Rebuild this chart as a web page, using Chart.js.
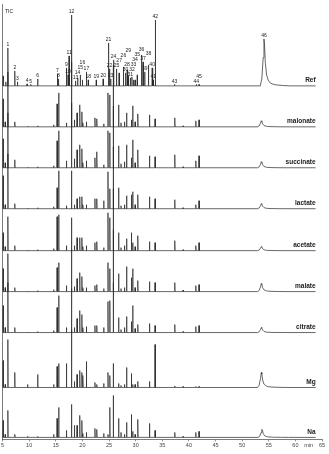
<!DOCTYPE html>
<html>
<head>
<meta charset="utf-8">
<script src="https://cdn.jsdelivr.net/npm/chart.js@4.4.0/dist/chart.umd.min.js"></script>
<style>
  html, body { margin: 0; padding: 0; background: #fff; }
</style>
</head>
<body>
<canvas id="myChart" width="329" height="454"></canvas>
<script>
// trace names, top to bottom
const sampleNames = ['Ref', 'malonate', 'succinate', 'lactate', 'acetate', 'malate', 'citrate', 'Mg', 'Na'];

// Ref chromatogram: retention times (min), peak heights, peak numbers
const refTimes = [5.1, 5.6, 6.0, 7.3, 7.8, 9.6, 10.3, 11.6, 15.3, 15.5, 17.0, 17.3, 17.5, 17.95, 18.7, 19.1, 19.6, 20.0, 20.75, 21.1,
  22.6, 23.9, 24.9, 25.1, 25.3, 25.85, 26.4, 26.9, 27.7, 28.1, 28.4, 28.6, 29.0, 29.3, 29.6, 29.9, 30.3, 31.1, 31.4, 31.7,
  32.4, 33.1, 33.3, 33.7, 37.3, 41.4, 41.9];
const refHeights = [10, 4, 38, 15, 4, 2, 1.5, 7, 12, 7, 18, 11, 30, 71, 5, 8, 11, 6, 14, 6,
  6, 7, 43, 17, 7, 26, 17, 13, 19, 13, 16, 10, 8, 9, 6, 6, 11, 31, 24, 14,
  21, 18, 6, 66, 1.5, 1.5, 1.5];
const refLabels = ['', '', '1', '2', '3', '4', '5', '6', '7', '8', '9', '10', '11', '12', '13', '14', '15', '16', '17', '18',
  '19', '20', '21', '22', '23', '24', '25', '27', '26', '30', '28', '29', '31', '32', '33', '34', '35', '36', '37', '39',
  '38', '40', '41', '42', '43', '44', '45'];

// the other 8 traces share these retention times
const sampleTimes = [5.1, 5.5, 6.0, 7.3, 9.7, 11.6, 14.6, 15.25, 15.55, 17.0, 17.95, 18.5, 19.0, 19.5, 19.9, 20.1, 20.75, 22.35, 22.7,
  24.0, 24.8, 25.15, 25.8, 26.8, 27.25, 27.9, 28.3, 29.2, 29.45, 29.9, 30.4, 32.6, 33.65, 37.35, 38.9, 41.3, 41.9];
const malonate  = [28, 5, 55, 5, 0.5, 1, 2, 23, 34, 4, 65, 7, 14, 22, 15, 4, 5, 9, 8, 3, 34, 32, 62, 22, 4, 5, 14, 7, 21, 5, 13, 12, 8, 9, 1, 6, 7];
const succinate = [29, 5, 55, 8, 0.5, 1, 2, 27, 37, 7, 65, 9, 18, 23, 19, 5, 7, 10, 16, 3, 37, 35, 62, 22, 4, 6, 23, 10, 28, 5, 18, 12, 11, 13, 1, 7, 12];
const lactate   = [33, 4, 55, 5, 0.5, 1, 2, 21, 38, 3, 38, 4, 10, 12, 12, 4, 4, 10, 10, 8, 37, 20, 62, 21, 3, 4, 13, 14, 17, 4, 14, 12, 10, 9, 1, 4, 8];
const acetate   = [18, 4, 34, 5, 0.5, 1, 2, 34, 36, 5, 33, 5, 13, 13, 13, 4, 5, 8, 9, 3, 38, 33, 62, 18, 3, 5, 12, 18, 8, 4, 15, 9, 8, 10, 1, 5, 8];
const malate    = [23, 4, 38, 4, 0.5, 1, 2, 24, 29, 6, 42, 5, 13, 19, 15, 4, 4, 6, 7, 3, 29, 23, 62, 18, 3, 4, 25, 14, 23, 4, 11, 10, 9, 9, 1.5, 6, 7];
const citrate   = [27, 5, 50, 5, 0.5, 1, 2, 25, 37, 5, 44, 5, 14, 22, 18, 5, 6, 7, 7, 5, 31, 32, 50, 15, 3, 5, 16, 11, 27, 4, 8, 9, 7, 8, 1, 6, 7];
const mg        = [27, 3, 48, 15, 3, 13, 3, 21, 24, 24, 58, 6, 13, 17, 15, 12, 26, 5, 3, 4, 15, 12, 24, 4, 2, 3, 20, 14, 3, 3, 6, 6, 43, 1.5, 1, 1, 1];
const na        = [17, 3, 27, 3, 1, 1, 3, 19, 30, 7, 33, 12, 12, 22, 17, 4, 5, 9, 8, 4, 3, 30, 42, 19, 5, 3, 15, 23, 6, 3, 18, 14, 7, 5, 1, 5, 6];
const sampleHeights = [malonate, succinate, lactate, acetate, malate, citrate, mg, na];

// broad peak 46 (time, height) per trace, and its tailing shape
const broadTimes = [54.1, 53.6, 53.6, 53.6, 53.6, 53.6, 53.6, 53.6, 53.7];
const broadHeights = [47, 6, 6, 5, 4, 8, 5, 15, 8];
const peakShape = [[-0.7, 0], [-0.4, 0.15], [-0.15, 0.6], [0, 1], [0.1, 0.9], [0.25, 0.5], [0.5, 0.23], [0.8, 0.12],
  [1.2, 0.06], [2, 0.025], [3.5, 0.008], [5, 0]];

const xTicks = { min: 5, max: 65, step: 5 };
const traceEnd = 63.8;

// layout: baseline of each trace in y units (1 unit ~ 1px)
const panelBase = [354, 313, 272, 231, 189, 148, 107, 52, 2];

function buildTrace(times, heights, bTime, bHeight, base) {
    const pts = [{x: xTicks.min, y: base}, {x: traceEnd, y: base}];
    for (let i = 0; i < times.length; i++) {
        const t = times[i];
        pts.push({x: t - 0.05, y: base}, {x: t, y: base + heights[i]}, {x: t + 0.05, y: base});
    }
    peakShape.forEach(p => pts.push({x: bTime + p[0], y: base + p[1] * bHeight}));
    pts.sort((a, b) => a.x - b.x);
    return pts;
}

const datasets = [];
datasets.push({data: buildTrace(refTimes, refHeights, broadTimes[0], broadHeights[0], panelBase[0])});
sampleHeights.forEach((h, i) => {
    datasets.push({data: buildTrace(sampleTimes, h, broadTimes[i + 1], broadHeights[i + 1], panelBase[i + 1])});
});
datasets.forEach(d => {
    d.borderColor = '#262626';
    d.borderWidth = 0.7;
    d.pointRadius = 0;
    d.tension = 0;
    d.fill = false;
});

const textPlugin = {
    id: 'textPlugin',
    afterDraw(chart) {
        const ctx = chart.ctx;
        const x = chart.scales.x, y = chart.scales.y;
        ctx.save();
        ctx.fillStyle = '#1a1a1a';

        // trace names
        ctx.font = 'bold 6.5px "Liberation Sans", Arial, sans-serif';
        ctx.textAlign = 'right';
        ctx.textBaseline = 'alphabetic';
        sampleNames.forEach((name, i) => {
            ctx.fillText(name, x.getPixelForValue(traceEnd), y.getPixelForValue(panelBase[i]) - 3.5);
        });

        // peak numbers of the Ref trace
        ctx.font = '5px "Liberation Sans", Arial, sans-serif';
        ctx.textAlign = 'center';
        ctx.textBaseline = 'bottom';
        const placed = [];
        const put = (lab, t, h) => {
            const px = x.getPixelForValue(t);
            let py = y.getPixelForValue(panelBase[0] + h) - 0.5;
            const w = ctx.measureText(lab).width;
            let guard = 0;
            while (placed.some(b => px - w / 2 < b.r && px + w / 2 > b.l && py - 4.5 < b.b && py > b.t) && guard++ < 40) py -= 1;
            placed.push({l: px - w / 2, r: px + w / 2, t: py - 4.5, b: py});
            ctx.fillText(lab, px, py);
        };
        refLabels.forEach((lab, i) => { if (lab) put(lab, refTimes[i], refHeights[i]); });
        put('46', broadTimes[0], broadHeights[0]);

        // TIC and min
        ctx.textAlign = 'left';
        ctx.textBaseline = 'alphabetic';
        ctx.fillText('TIC', chart.chartArea.left + 2.5, chart.chartArea.top + 9);
        ctx.font = '5.5px "Liberation Sans", Arial, sans-serif';
        ctx.fillStyle = '#444';
        ctx.textAlign = 'center';
        ctx.textBaseline = 'top';
        ctx.fillText('min', x.getPixelForValue(62.5), x.top + 3);
        ctx.restore();
    }
};

const ctx = document.getElementById('myChart');
new Chart(ctx, {
    type: 'line',
    data: {datasets: datasets},
    options: {
        responsive: false,
        animation: false,
        layout: {padding: {left: 0, right: 7, top: 4, bottom: 4}},
        plugins: {legend: {display: false}, tooltip: {enabled: false}},
        scales: {
            x: {
                type: 'linear', min: xTicks.min, max: xTicks.max,
                ticks: {stepSize: xTicks.step, font: {size: 5.5, family: '"Liberation Sans", Arial'}, color: '#444', padding: 1, maxRotation: 0, autoSkip: false},
                grid: {drawOnChartArea: false, tickLength: 2, color: '#444', lineWidth: 0.6},
                border: {color: '#444', width: 0.7}
            },
            y: {
                min: 0, max: 436,
                ticks: {display: false},
                grid: {display: false, drawTicks: false},
                border: {color: '#444', width: 0.7}
            }
        }
    },
    plugins: [textPlugin]
});
</script>
</body>
</html>
